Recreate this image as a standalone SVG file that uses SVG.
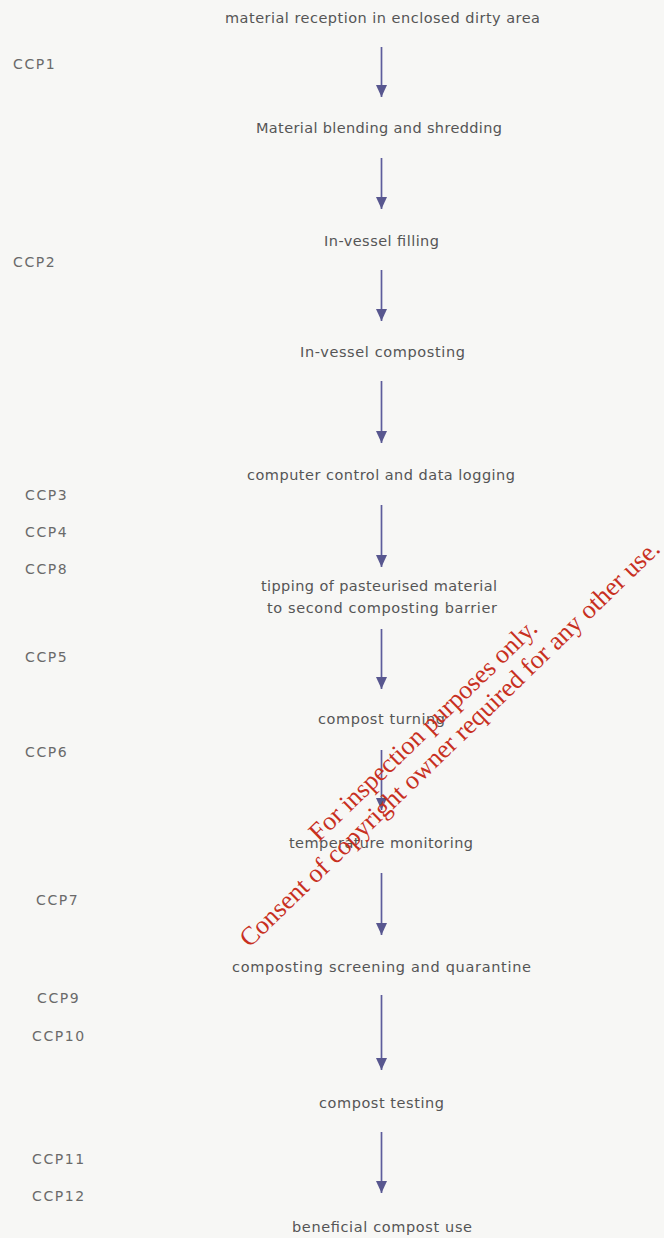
<svg xmlns="http://www.w3.org/2000/svg" width="664" height="1238" viewBox="0 0 664 1238">
  <style>
    .step { font-family: "DejaVu Sans", "Liberation Sans", sans-serif; font-size: 14.5px; fill: #555555; text-anchor: middle; }
    .ccp { font-family: "DejaVu Sans", "Liberation Sans", sans-serif; font-size: 14px; fill: #6a6a6a; letter-spacing: 1.6px; }
    .flow { stroke: #5d5c9c; stroke-width: 1.7; fill: none; marker-end: url(#head); }
    .stamp { font-family: "Liberation Serif", "Times New Roman", serif; font-size: 26px; fill: #c8301f; text-anchor: middle; }
  </style>
  <defs>
    <marker id="head" viewBox="0 0 12 11" refX="12" refY="5.5" markerWidth="12" markerHeight="11" markerUnits="userSpaceOnUse" orient="auto">
      <path d="M0,0 L12,5.5 L0,11 z" fill="#58578f"/>
    </marker>
  </defs>

  <rect width="664" height="1238" fill="#f7f7f5"/>

  <!-- process steps -->
  <g id="step-reception"><text class="step" x="382.5" y="23" textLength="315" lengthAdjust="spacing">material reception in enclosed dirty area</text></g>
  <g id="step-blending"><text class="step" x="379" y="133" textLength="246" lengthAdjust="spacing">Material blending and shredding</text></g>
  <g id="step-filling"><text class="step" x="381.5" y="246" textLength="115" lengthAdjust="spacing">In-vessel filling</text></g>
  <g id="step-composting"><text class="step" x="382.5" y="357" textLength="165" lengthAdjust="spacing">In-vessel composting</text></g>
  <g id="step-control"><text class="step" x="381" y="480" textLength="268" lengthAdjust="spacing">computer control and data logging</text></g>
  <g id="step-tipping">
    <text class="step" x="379" y="591" textLength="236" lengthAdjust="spacing">tipping of pasteurised material</text>
    <text class="step" x="382" y="613" textLength="230" lengthAdjust="spacing">to second composting barrier</text>
  </g>
  <g id="step-turning"><text class="step" x="381.5" y="724" textLength="127" lengthAdjust="spacing">compost turning</text></g>
  <g id="step-temperature"><text class="step" x="381" y="848" textLength="184" lengthAdjust="spacing">temperature monitoring</text></g>
  <g id="step-screening"><text class="step" x="381.5" y="972" textLength="299" lengthAdjust="spacing">composting screening and quarantine</text></g>
  <g id="step-testing"><text class="step" x="381.5" y="1108" textLength="125" lengthAdjust="spacing">compost testing</text></g>
  <g id="step-use"><text class="step" x="382" y="1232" textLength="180" lengthAdjust="spacing">beneficial compost use</text></g>

  <!-- critical control points -->
  <g id="ccp-labels">
    <text class="ccp" x="13" y="69">CCP1</text>
    <text class="ccp" x="13" y="267">CCP2</text>
    <text class="ccp" x="25" y="500">CCP3</text>
    <text class="ccp" x="25" y="537">CCP4</text>
    <text class="ccp" x="25" y="574">CCP8</text>
    <text class="ccp" x="25" y="662">CCP5</text>
    <text class="ccp" x="25" y="757">CCP6</text>
    <text class="ccp" x="36" y="905">CCP7</text>
    <text class="ccp" x="37" y="1003">CCP9</text>
    <text class="ccp" x="32" y="1041">CCP10</text>
    <text class="ccp" x="32" y="1164">CCP11</text>
    <text class="ccp" x="32" y="1201">CCP12</text>
  </g>

  <!-- connectors -->
  <g id="connectors">
    <line class="flow" x1="381.5" y1="47" x2="381.5" y2="97"/>
    <line class="flow" x1="381.5" y1="158" x2="381.5" y2="209"/>
    <line class="flow" x1="381.5" y1="270" x2="381.5" y2="321"/>
    <line class="flow" x1="381.5" y1="381" x2="381.5" y2="443"/>
    <line class="flow" x1="381.5" y1="505" x2="381.5" y2="567"/>
    <line class="flow" x1="381.5" y1="629" x2="381.5" y2="689"/>
    <line class="flow" x1="381.5" y1="750" x2="381.5" y2="810"/>
    <line class="flow" x1="381.5" y1="873" x2="381.5" y2="935"/>
    <line class="flow" x1="381.5" y1="995" x2="381.5" y2="1070"/>
    <line class="flow" x1="381.5" y1="1132" x2="381.5" y2="1193"/>
  </g>

  <!-- diagonal stamp -->
  <g id="stamp" transform="translate(440,742) rotate(-44)">
    <text class="stamp" x="-4" y="-12">For inspection purposes only.</text>
    <text class="stamp" x="6" y="16">Consent of copyright owner required for any other use.</text>
  </g>
</svg>
